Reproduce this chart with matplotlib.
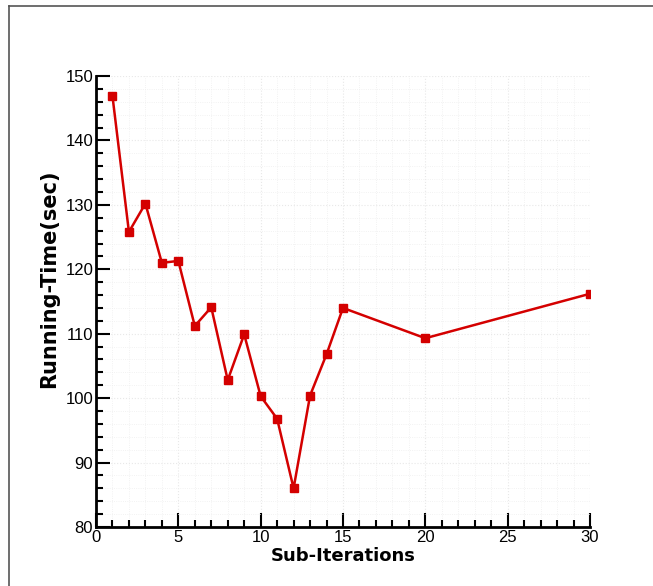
import matplotlib.pyplot as plt
from matplotlib.lines import Line2D
from matplotlib.ticker import MultipleLocator

plt.rcParams['font.family'] = ['Liberation Sans', 'DejaVu Sans']

sub_iter = [1, 2, 3, 4, 5, 6, 7, 8, 9, 10, 11, 12, 13, 14, 15, 20, 30]
run_time = [146.9, 125.8, 130.2, 121.0, 121.3, 111.2, 114.1, 102.8, 109.9,
            100.3, 96.8, 86.0, 100.4, 106.8, 114.0, 109.3, 116.2]

fig = plt.figure(figsize=(6.53, 5.86), dpi=100)
ax = fig.add_axes([0.147, 0.1007, 0.7565, 0.7696])

# figure frame (top and left)
fig.add_artist(Line2D([9/653, 1], [1 - 6/586, 1 - 6/586], color='#555555', lw=1.2))
fig.add_artist(Line2D([9/653, 9/653], [0, 1 - 6/586], color='#555555', lw=1.2))

ax.plot(sub_iter, run_time, color='#d40000', lw=1.8, marker='s', markersize=5.5)

ax.set_xlim(0, 30)
ax.set_ylim(80, 150)
ax.xaxis.set_major_locator(MultipleLocator(5))
ax.xaxis.set_minor_locator(MultipleLocator(1))
ax.yaxis.set_major_locator(MultipleLocator(10))
ax.yaxis.set_minor_locator(MultipleLocator(2))
ax.tick_params(which='both', direction='in', width=1.5, labelsize=12, pad=2)
ax.tick_params(which='major', length=10)
ax.tick_params(which='minor', length=5)
for lbl in ax.get_xticklabels() + ax.get_yticklabels():
    lbl.set_family('Liberation Sans')
ax.spines['top'].set_visible(False)
ax.spines['right'].set_visible(False)
ax.spines['left'].set_linewidth(2)
ax.spines['bottom'].set_linewidth(2)
ax.grid(True, which='major', color='#e8e8e8', ls=':', lw=0.8)
ax.grid(True, which='minor', color='#eeeeee', ls=':', lw=0.6)

ax.set_xlabel('Sub-Iterations', fontsize=13, fontweight='bold', family='DejaVu Sans')
ax.set_ylabel('Running-Time(sec)', fontsize=15, fontweight='bold', family='DejaVu Sans')
ax.xaxis.set_label_coords(0.5, -0.045)
ax.yaxis.set_label_coords(-0.075, 0.55)

fig.savefig('out.png', dpi=100)
